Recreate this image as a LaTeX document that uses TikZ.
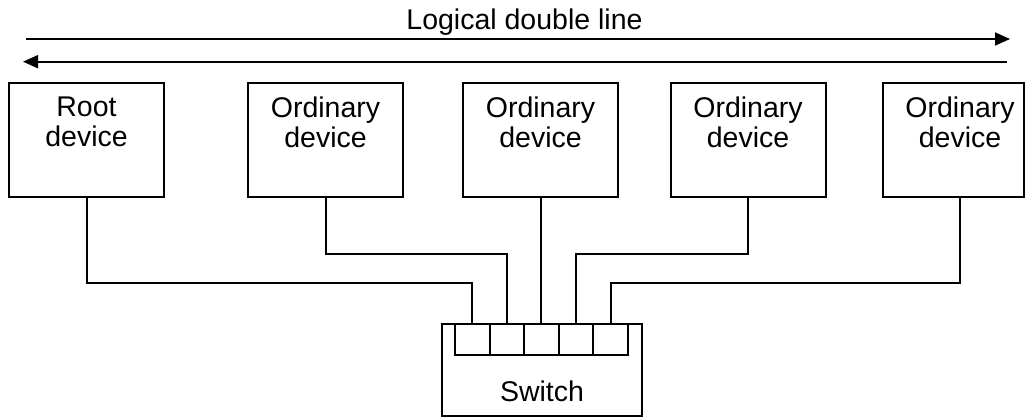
\documentclass[tikz,border=0pt]{standalone}
\usepackage{fontspec}
\setmainfont{Liberation Sans}
\usetikzlibrary{arrows.meta}
\usetikzlibrary{positioning}

\newcommand{\lblfont}{\fontsize{28.5}{29.5}\selectfont}

\tikzset{
  device/.style={draw, line width=2pt, minimum width=155pt, minimum height=114pt, inner sep=0pt},
  devlabel/.style={anchor=north, align=center, inner sep=0pt, font=\lblfont, yshift=-15pt},
  port/.style={draw, line width=2pt, minimum width=34.6pt, minimum height=31pt, inner sep=0pt},
  wire/.style={line width=2pt},
  logic/.style={line width=1.8pt, -{Triangle[length=15pt,width=13pt]}}
}

\begin{document}
\begin{tikzpicture}[x=1pt, y=-1pt]
            \useasboundingbox (0,0) rectangle (1026,417);
            % Logical double line
            \node[font=\lblfont, anchor=base] (title) at (524.5,30) {Logical double line};
            \coordinate (upW) at (26,39);
            \coordinate (upE) at (1010,39);
            \coordinate (dnE) at (1007,61.7);
            \coordinate (dnW) at (23,61.7);
            \draw[logic] (upW) -- (upE);
            \draw[logic] (dnE) -- (dnW);
            % Devices
            \node[device, label={[devlabel]north:{Root\\device}}]     (root) at ( 86.5,140) {};
            \node[device, label={[devlabel]north:{Ordinary\\device}}] (dev2) at (325.5,140) {};
            \node[device, label={[devlabel]north:{Ordinary\\device}}] (dev3) at (540.5,140) {};
            \node[device, label={[devlabel]north:{Ordinary\\device}}] (dev4) at (748.0,140) {};
            \node[device, minimum width=141pt,
                  label={[devlabel, xshift=6.5pt]north:{Ordinary\\device}}] (dev5) at (953.5,140) {};
            % Switch with ports
            \node[device, minimum width=200pt, minimum height=92pt] (switch) at (542,370) {};
            \node[font=\lblfont, anchor=base] (swname) at ([yshift=16pt]switch.south) {Switch};
            \foreach \i in {1,...,5}
                \node[port] (p\i) at ({472.3+34.6*(\i-1)}, 339.5) {};
            % Cabling
            \draw[wire] (root.south) -- (root.south |- 0,283) -| (p1.north);
            \draw[wire] (dev2.south) -- (dev2.south |- 0,254) -| (p2.north);
            \draw[wire] (dev3.south) -- (dev3.south |- p3.north);
            \draw[wire] (dev4.south) -- (dev4.south |- 0,254) -| (p4.north);
            \draw[wire] ([xshift=6.5pt]dev5.south) -- ([xshift=6.5pt]dev5.south |- 0,283) -| (p5.north);
\end{tikzpicture}
\end{document}
